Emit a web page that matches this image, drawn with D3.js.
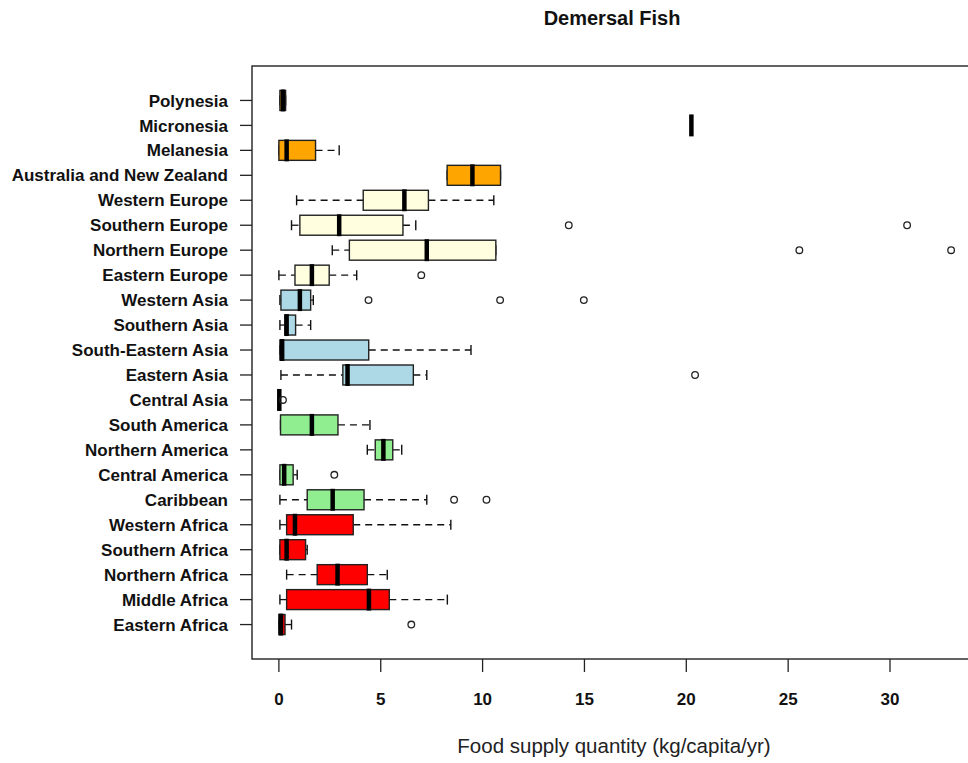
<!DOCTYPE html>
<head>
    <title>Demersal Fish</title>
    <script src="https://d3js.org/d3.v7.min.js"></script>
</head>
<style>
body {
  margin: 0;
  background: #fff;
  font-family: "Liberation Sans", Arial, Helvetica, sans-serif;
}
</style>
<body>
    <svg></svg>
</body>

<script>

    // Regions, bottom to top (position 1 = Eastern Africa)
    var regions = ["Eastern Africa", "Middle Africa", "Northern Africa", "Southern Africa", "Western Africa",
        "Caribbean", "Central America", "Northern America", "South America",
        "Central Asia", "Eastern Asia", "South-Eastern Asia", "Southern Asia", "Western Asia",
        "Eastern Europe", "Northern Europe", "Southern Europe", "Western Europe",
        "Australia and New Zealand", "Melanesia", "Micronesia", "Polynesia"];

    var continent = ["Africa", "Africa", "Africa", "Africa", "Africa",
        "Americas", "Americas", "Americas", "Americas",
        "Asia", "Asia", "Asia", "Asia", "Asia",
        "Europe", "Europe", "Europe", "Europe",
        "Oceania", "Oceania", "Oceania", "Oceania"];

    // box statistics (kg/capita/yr)
    var lowWhisker = [0.00, 0.05, 0.38, 0.05, 0.05, 0.05, 0.05, 4.34, 0.08, 0.00, 0.10, 0.05, 0.05, 0.05, 0.00, 2.62, 0.62, 0.87, 8.26, 0.00, 20.25, 0.05];
    var q1         = [0.00, 0.38, 1.88, 0.05, 0.38, 1.39, 0.05, 4.73, 0.08, 0.00, 3.14, 0.05, 0.29, 0.10, 0.79, 3.46, 1.03, 4.14, 8.26, 0.00, 20.25, 0.05];
    var median     = [0.10, 4.42, 2.88, 0.38, 0.79, 2.64, 0.26, 5.13, 1.62, 0.02, 3.37, 0.16, 0.38, 1.03, 1.62, 7.26, 2.96, 6.16, 9.50, 0.38, 20.25, 0.20];
    var q3         = [0.30, 5.42, 4.34, 1.31, 3.65, 4.18, 0.70, 5.59, 2.90, 0.05, 6.60, 4.41, 0.82, 1.56, 2.47, 10.65, 6.09, 7.34, 10.88, 1.80, 20.25, 0.33];
    var highWhisker= [0.62, 8.27, 5.32, 1.39, 8.44, 7.26, 0.90, 6.03, 4.47, 0.05, 7.26, 9.43, 1.56, 1.69, 3.82, 10.65, 6.72, 10.55, 10.88, 2.96, 20.25, 0.33];
    var outliers   = [[6.5], [], [], [], [], [8.6, 10.19], [2.72], [], [], [0.2], [20.43], [], [], [4.4, 10.86, 14.97],
        [6.99], [25.55, 33.0], [14.23, 30.84], [], [], [], [], []];

    var xTicks = [0, 5, 10, 15, 20, 25, 30];

    var colors = { "Africa": "#ff0000", "Americas": "#90ee90", "Asia": "#add8e6", "Europe": "#ffffe0", "Oceania": "#ffa500" };

    // Sizes
    var width = 968;
    var height = 763;
    var plot = { left: 252, right: 978, top: 66, bottom: 659 };

    var svg = d3.select('svg')
        .attr('width', width)
        .attr('height', height);

    // x domain: data range padded by 4% like R
    var allVals = lowWhisker.concat(highWhisker, d3.merge(outliers));
    var xmin = d3.min(allVals), xmax = d3.max(allVals);
    var pad = (xmax - xmin) * 0.04;
    var x = d3.scaleLinear().domain([xmin - pad, xmax + pad]).range([plot.left, plot.right]);

    var n = regions.length;
    var y = d3.scaleLinear().domain([0.5 - n * 0.04, n + 0.5 + n * 0.04]).range([plot.bottom, plot.top]);
    var boxH = (y(0) - y(1)) * 0.8;

    var data = regions.map(function (r, i) {
        return { name: r, pos: i + 1, lo: lowWhisker[i], q1: q1[i], med: median[i], q3: q3[i], hi: highWhisker[i],
            out: outliers[i], fill: colors[continent[i]] };
    });

    // plot box
    svg.append('rect')
        .attr('x', plot.left).attr('y', plot.top)
        .attr('width', plot.right - plot.left).attr('height', plot.bottom - plot.top)
        .attr('fill', 'none').attr('stroke', '#222').attr('stroke-width', 1.4);

    var g = svg.selectAll('.box')
        .data(data)
        .enter().append('g').attr('class', 'box');

    // whiskers (dashed)
    g.filter(function (d) { return d.q1 > d.lo; }).append('line')
        .attr('x1', function (d) { return x(d.lo); }).attr('x2', function (d) { return x(d.q1); })
        .attr('y1', function (d) { return y(d.pos); }).attr('y2', function (d) { return y(d.pos); })
        .attr('stroke', '#111').attr('stroke-width', 1.3).attr('stroke-dasharray', '7,5');
    g.filter(function (d) { return d.hi > d.q3; }).append('line')
        .attr('x1', function (d) { return x(d.q3); }).attr('x2', function (d) { return x(d.hi); })
        .attr('y1', function (d) { return y(d.pos); }).attr('y2', function (d) { return y(d.pos); })
        .attr('stroke', '#111').attr('stroke-width', 1.3).attr('stroke-dasharray', '7,5');

    // staples
    ['lo', 'hi'].forEach(function (k) {
        g.filter(function (d) { return d.hi > d.lo; }).append('line')
            .attr('x1', function (d) { return x(d[k]); }).attr('x2', function (d) { return x(d[k]); })
            .attr('y1', function (d) { return y(d.pos) - boxH / 4; }).attr('y2', function (d) { return y(d.pos) + boxH / 4; })
            .attr('stroke', '#111').attr('stroke-width', 1.4);
    });

    // boxes
    g.append('rect')
        .attr('x', function (d) { return x(d.q1); })
        .attr('y', function (d) { return y(d.pos) - boxH / 2; })
        .attr('width', function (d) { return x(d.q3) - x(d.q1); })
        .attr('height', boxH)
        .attr('fill', function (d) { return d.fill; })
        .attr('stroke', '#222').attr('stroke-width', 1.4);

    // medians
    g.append('line')
        .attr('x1', function (d) { return x(d.med); }).attr('x2', function (d) { return x(d.med); })
        .attr('y1', function (d) { return y(d.pos) - boxH / 2 - 1; }).attr('y2', function (d) { return y(d.pos) + boxH / 2 + 1; })
        .attr('stroke', '#000').attr('stroke-width', 4.5);

    // outliers
    g.selectAll('circle')
        .data(function (d) { return d.out.map(function (v) { return { v: v, pos: d.pos }; }); })
        .enter().append('circle')
        .attr('cx', function (o) { return x(o.v); })
        .attr('cy', function (o) { return y(o.pos); })
        .attr('r', 3.3)
        .attr('fill', 'none').attr('stroke', '#222').attr('stroke-width', 1.3);

    // y axis ticks and labels
    var yAxis = svg.append('g');
    yAxis.selectAll('line').data(data).enter().append('line')
        .attr('x1', plot.left - 12).attr('x2', plot.left)
        .attr('y1', function (d) { return y(d.pos); }).attr('y2', function (d) { return y(d.pos); })
        .attr('stroke', '#222').attr('stroke-width', 1.3);
    yAxis.selectAll('text').data(data).enter().append('text')
        .attr('x', 228)
        .attr('y', function (d) { return y(d.pos); })
        .attr('dy', '0.36em')
        .attr('text-anchor', 'end')
        .style('font-size', '17px').style('font-weight', 'bold')
        .attr('fill', '#111')
        .text(function (d) { return d.name; });

    // x axis ticks and labels
    var xAxis = svg.append('g');
    xAxis.selectAll('line').data(xTicks).enter().append('line')
        .attr('x1', function (t) { return x(t); }).attr('x2', function (t) { return x(t); })
        .attr('y1', plot.bottom).attr('y2', plot.bottom + 13)
        .attr('stroke', '#222').attr('stroke-width', 1.3);
    xAxis.selectAll('text').data(xTicks).enter().append('text')
        .attr('x', function (t) { return x(t); })
        .attr('y', 705)
        .attr('text-anchor', 'middle')
        .style('font-size', '17px').style('font-weight', 'bold')
        .attr('fill', '#111')
        .text(function (t) { return t; });

    // title and axis title
    svg.append('text')
        .attr('x', 612).attr('y', 25)
        .attr('text-anchor', 'middle')
        .style('font-size', '20px').style('font-weight', 'bold')
        .attr('fill', '#111')
        .text('Demersal Fish');

    svg.append('text')
        .attr('x', 614).attr('y', 753)
        .attr('text-anchor', 'middle')
        .style('font-size', '20.5px')
        .attr('fill', '#222')
        .text('Food supply quantity (kg/capita/yr)');

</script>
